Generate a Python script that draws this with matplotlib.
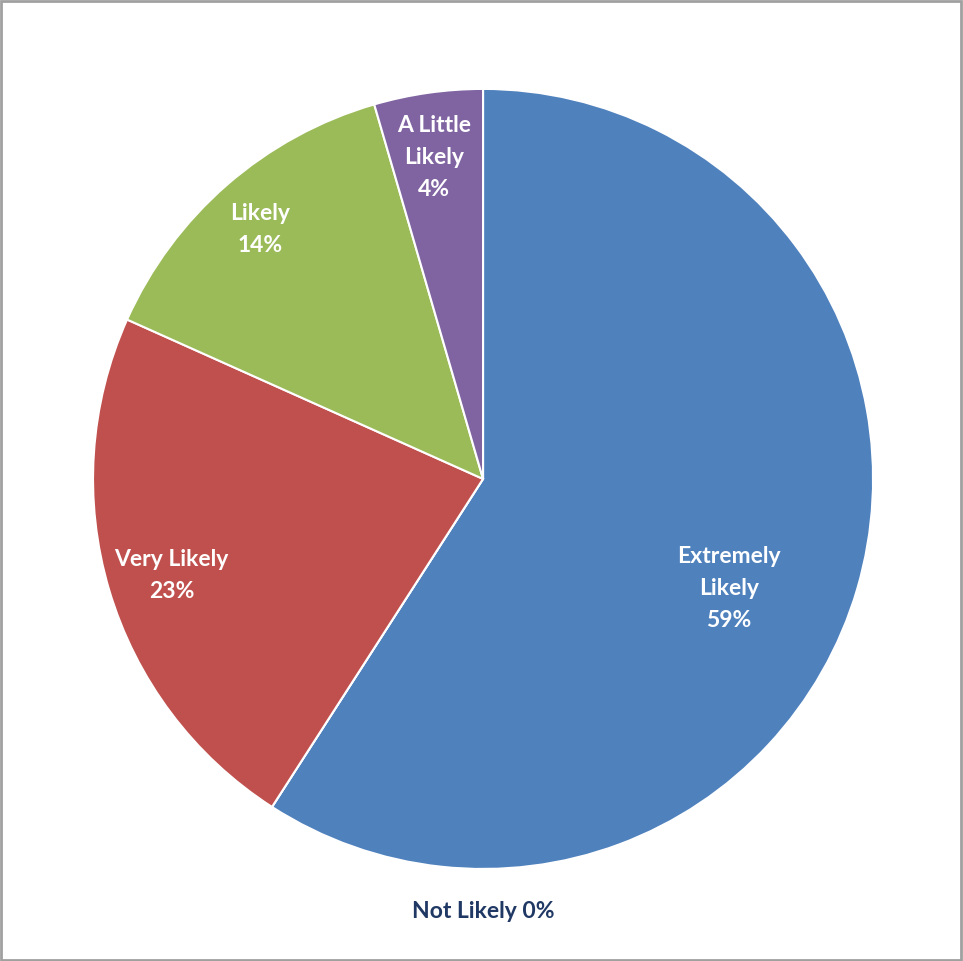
import numpy as np
import matplotlib.pyplot as plt

# Datos (porcentajes)
categorias = ['Extremely Likely', 'Not Likely', 'Very Likely', 'Likely', 'A Little Likely']
etiquetas = ['Extremely\nLikely', 'Not Likely', 'Very Likely', 'Likely', 'A Little\nLikely']
valores = [59.1, 0.0, 22.6, 13.8, 4.5]
pct_txt = ['59%', '0%', '23%', '14%', '4%']
colores = ['#4F81BD', '#4F81BD', '#C0504D', '#9BBB59', '#8064A2']

plt.rcParams['font.family'] = ['Lato', 'DejaVu Sans']

fig = plt.figure(figsize=(9.63, 9.62), dpi=100)
ax = fig.add_axes([0.0966, 0.0956, 0.81, 0.811])

wedges, _ = ax.pie(valores, colors=colores, startangle=90, counterclock=False,
                   wedgeprops=dict(edgecolor='white', linewidth=1.5))
ax.set_xlim(-1, 1)
ax.set_ylim(-1, 1)
ax.set_aspect('equal')

# distancia radial y giro de cada etiqueta (Excel las coloca "best fit")
dist = [0.69, 0, 0.836, 0.86, 0.835]
giro = [-7.5, 0, 0.5, 0.6, 0.5]
for i, w in enumerate(wedges):
    if valores[i] == 0:
        continue
    ang = np.deg2rad((w.theta1 + w.theta2) / 2 + giro[i])
    ax.text(dist[i] * np.cos(ang), dist[i] * np.sin(ang), etiquetas[i] + '\n' + pct_txt[i],
            ha='center', va='center', color='white', fontsize=16.5, fontweight='bold',
            linespacing=1.65)

# la porción de 0% lleva la etiqueta fuera, abajo
fig.text(0.5016, 1 - 912 / 962, etiquetas[1] + ' ' + pct_txt[1], ha='center', va='center',
         color='#1F3864', fontsize=16.5, fontweight='bold')

# marco gris alrededor del gráfico
fig.patches.append(plt.Rectangle((0.001, 0.001), 0.997, 0.997, transform=fig.transFigure,
                                 fill=False, edgecolor='#A0A0A0', linewidth=2))

fig.savefig('out.png', dpi=100, facecolor='white')
